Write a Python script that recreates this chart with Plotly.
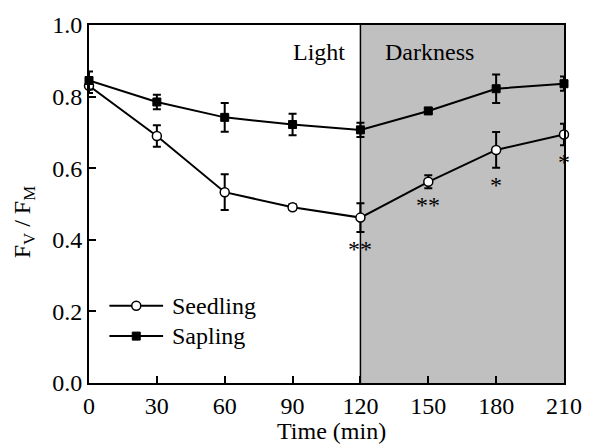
import plotly.graph_objects as go

# Time points (min)
time_min = [0, 30, 60, 90, 120, 150, 180, 210]

# Fv/Fm means and standard errors
seedling = [0.830, 0.690, 0.533, 0.491, 0.462, 0.562, 0.651, 0.694]
seedling_err = [0.020, 0.030, 0.050, 0.008, 0.040, 0.018, 0.050, 0.030]
sapling = [0.845, 0.785, 0.742, 0.722, 0.707, 0.760, 0.822, 0.836]
sapling_err = [0.025, 0.020, 0.040, 0.030, 0.020, 0.007, 0.040, 0.020]

# Significance marks for seedling vs sapling
significance = ["", "", "", "", "**", "**", "*", "*"]

x_ticks = [0, 30, 60, 90, 120, 150, 180, 210]
y_ticks = [0.0, 0.2, 0.4, 0.6, 0.8, 1.0]

dark_start, dark_end = 120, 210

FONT = "Liberation Serif, Times New Roman, serif"
FS = 24

fig = go.Figure()

series = [
    ("Seedling", seedling, seedling_err,
     dict(symbol="circle", size=9, color="white", line=dict(color="black", width=1.5))),
    ("Sapling", sapling, sapling_err,
     dict(symbol="square", size=8, color="black", line=dict(color="black", width=1))),
]

for name, vals, errs, marker in series:
    fig.add_trace(go.Scatter(
        x=time_min, y=vals, name=name, mode="lines+markers",
        line=dict(color="black", width=2), marker=marker,
        error_y=dict(type="data", array=errs, color="black", thickness=2, width=4),
        cliponaxis=False, showlegend=False,
    ))

# Darkness period shading and boundary
fig.add_shape(type="rect", xref="x", yref="paper", x0=dark_start, x1=dark_end,
              y0=0, y1=1, fillcolor="#c0c0c0", line=dict(width=0), layer="below")
fig.add_shape(type="line", xref="x", yref="paper", x0=dark_start, x1=dark_start,
              y0=0, y1=1, line=dict(color="black", width=1.5), layer="below")

txt = dict(family=FONT, size=FS, color="black")

fig.add_annotation(x=dark_start - 6, y=0.925, text="Light", showarrow=False,
                   xanchor="right", font=txt)
fig.add_annotation(x=dark_start + 10, y=0.925, text="Darkness", showarrow=False,
                   xanchor="left", font=txt)

for t, v, e, s in zip(time_min, seedling, seedling_err, significance):
    if s:
        fig.add_annotation(x=t, y=v - e, text=s, showarrow=False, yanchor="top",
                           yshift=-2, font=txt)

# Legend drawn inside the plot area (lower left)
legend_rows = [("Seedling", "circle"), ("Sapling", "square")]
lx0, lx1, lxm, ltext = 0.043, 0.156, 0.0995, 0.170
for i, (label, sym) in enumerate(legend_rows):
    ly = 0.216 - i * 0.085
    fig.add_shape(type="line", xref="paper", yref="paper", x0=lx0, x1=lx1, y0=ly, y1=ly,
                  line=dict(color="black", width=2))
    if sym == "circle":
        fig.add_shape(type="circle", xref="paper", yref="paper", xsizemode="pixel",
                      ysizemode="pixel", xanchor=lxm, yanchor=ly,
                      x0=-4.5, x1=4.5, y0=-4.5, y1=4.5,
                      fillcolor="white", line=dict(color="black", width=1.5))
    else:
        fig.add_shape(type="rect", xref="paper", yref="paper", xsizemode="pixel",
                      ysizemode="pixel", xanchor=lxm, yanchor=ly,
                      x0=-4, x1=4, y0=-4, y1=4,
                      fillcolor="black", line=dict(color="black", width=1))
    fig.add_annotation(xref="paper", yref="paper", x=ltext, y=ly, text=label,
                       showarrow=False, xanchor="left", yanchor="middle", font=txt)

# Axis titles
fig.add_annotation(xref="paper", yref="paper", x=0.51, y=-0.174, text="Time (min)",
                   showarrow=False, yanchor="bottom", borderpad=0, font=txt)
fig.add_annotation(xref="paper", yref="paper", x=-0.138, y=0.45,
                   text="F<sub>V</sub> / F<sub>M</sub>", textangle=-90,
                   showarrow=False, xanchor="center", yanchor="middle", font=txt)

axis_common = dict(
    showline=True, linecolor="black", linewidth=2, mirror=True,
    ticks="inside", ticklen=7, tickwidth=2, tickcolor="black",
    showgrid=False, zeroline=False,
    tickfont=txt,
)

fig.update_xaxes(range=[0, 210], tickvals=x_ticks, **axis_common)
fig.update_yaxes(range=[0, 1.0], tickvals=y_ticks, tickformat=".1f", **axis_common)

fig.update_layout(
    width=594, height=446,
    margin=dict(l=89, r=19, t=21, b=63),
    plot_bgcolor="white", paper_bgcolor="white",
    font=txt,
    showlegend=False,
)

fig.write_html("out.html")
